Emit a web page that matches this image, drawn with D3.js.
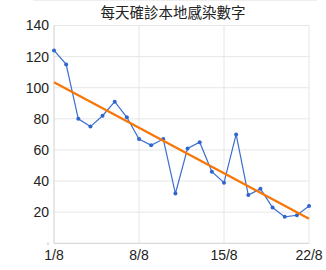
<!DOCTYPE html>
<html><head><meta charset="utf-8">
<script src="https://cdn.jsdelivr.net/npm/d3@7"></script>
<style>body{margin:0;background:#fff}svg{display:block}</style>
</head><body>
<svg id="c" width="326" height="270"></svg>
<script>
const title = "每天確診本地感染數字";
const days = d3.range(1, 23);
const cases = [124,115,80,75,82,91,81,67,63,67,32,61,65,46,39,70,31,35,23,17,18,24];
const trend = [103.5, 15.8];
const xTicks = [1, 8, 15, 22];
const xTickLabels = ["1/8", "8/8", "15/8", "22/8"];
const yTicks = [20, 40, 60, 80, 100, 120, 140];

const svg = d3.select("#c");
const x = d3.scaleLinear().domain([1, 22]).range([54, 309]);
const y = d3.scaleLinear().domain([0, 140]).range([243.3, 25.5]);
const font = "'Liberation Sans', Arial, sans-serif";

svg.append("line").attr("x1", 33).attr("x2", 317).attr("y1", 0.5).attr("y2", 0.5)
  .attr("stroke", "#eee");

svg.append("text").attr("x", 173).attr("y", 18).attr("text-anchor", "middle")
  .attr("font-family", "'Noto Sans CJK TC', sans-serif").attr("font-size", 14.5)
  .attr("fill", "#222").text(title);

// gridlines
svg.append("g").selectAll("line").data(yTicks).join("line")
  .attr("x1", x(1)).attr("x2", x(22)).attr("y1", d => y(d)).attr("y2", d => y(d))
  .attr("stroke", "#e6e6e6").attr("stroke-width", 1);
svg.append("g").selectAll("line").data(xTicks.slice(1)).join("line")
  .attr("x1", d => x(d)).attr("x2", d => x(d)).attr("y1", y(140)).attr("y2", y(0))
  .attr("stroke", "#e6e6e6").attr("stroke-width", 1);
// axes lines
svg.append("line").attr("x1", x(1)).attr("x2", x(1)).attr("y1", y(140)).attr("y2", y(0))
  .attr("stroke", "#d0d0d0");
svg.append("line").attr("x1", x(1)).attr("x2", x(22)).attr("y1", y(0)).attr("y2", y(0))
  .attr("stroke", "#d0d0d0");

// y labels
svg.append("g").selectAll("text").data(yTicks).join("text")
  .attr("x", 49).attr("y", d => y(d)).attr("dy", "0.35em").attr("text-anchor", "end")
  .attr("font-family", font).attr("font-size", 14).attr("fill", "#222").text(d => d);
svg.append("text").attr("x", 49).attr("y", y(0)).attr("dy", "0.35em").attr("text-anchor", "end")
  .attr("font-family", font).attr("font-size", 3.5).attr("fill", "#aaa").text("0");

// x labels
svg.append("g").selectAll("text").data(xTicks).join("text")
  .attr("x", d => x(d)).attr("y", 260).attr("text-anchor", "middle")
  .attr("font-family", font).attr("font-size", 14).attr("fill", "#222")
  .text((d, i) => xTickLabels[i]);

// data line
const line = d3.line().x((d, i) => x(days[i])).y(d => y(d));
svg.append("path").datum(cases).attr("d", line).attr("fill", "none")
  .attr("stroke", "#3b6fcf").attr("stroke-width", 1.2);
svg.append("g").selectAll("circle").data(cases).join("circle")
  .attr("cx", (d, i) => x(days[i])).attr("cy", d => y(d)).attr("r", 2)
  .attr("fill", "#2f66cc");

// trend
svg.append("line").attr("x1", x(1)).attr("y1", y(trend[0])).attr("x2", x(22)).attr("y2", y(trend[1]))
  .attr("stroke", "#f7760a").attr("stroke-width", 2.3);
</script>
</body></html>
